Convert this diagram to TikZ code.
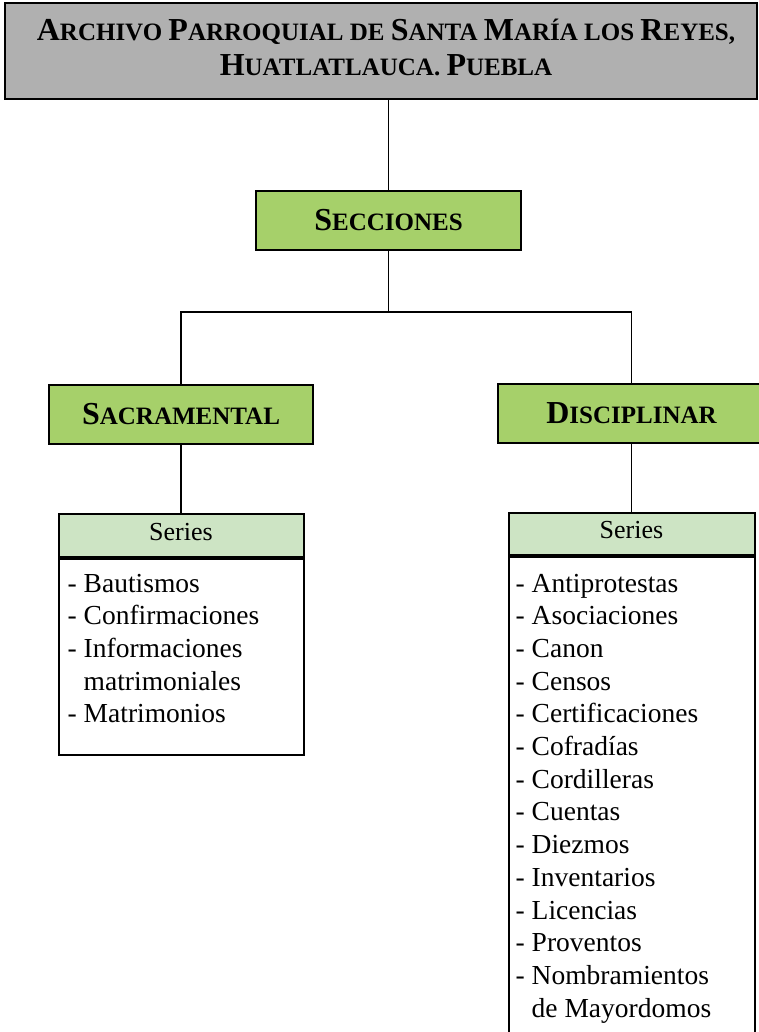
\documentclass[tikz,border=0pt]{standalone}
\usepackage{fontspec}
\setmainfont{Liberation Serif}
\definecolor{titlegray}{RGB}{176,176,176}
\definecolor{secgreen}{RGB}{166,208,106}
\definecolor{hdrgreen}{RGB}{205,228,196}
\newcommand\capbig[1]{{\fontsize{32pt}{34pt}\selectfont #1}}
\newcommand\capsml[1]{{\fontsize{25pt}{34pt}\selectfont #1}}
\begin{document}
\begin{tikzpicture}[x=1pt,y=-1pt,
  boxline/.style={draw=black, line width=2pt},
  titlebox/.style={boxline, fill=titlegray, inner sep=0pt},
  greenbox/.style={boxline, fill=secgreen, inner sep=0pt, font=\bfseries\fontsize{25pt}{34pt}\selectfont, text height=20pt, text depth=0pt},
  hdrbox/.style={boxline, fill=hdrgreen, inner sep=0pt, font=\fontsize{26pt}{30pt}\selectfont, text height=15pt, text depth=5.6pt},
  listbox/.style={boxline, fill=white, inner sep=0pt},
  item/.style={anchor=base west, inner sep=0pt, font=\fontsize{27.5pt}{32.7pt}\selectfont},
  conn/.style={draw=black, line width=1.8pt},
  titletext/.style={anchor=base, inner sep=0pt, font=\bfseries\fontsize{25pt}{34pt}\selectfont}]
\useasboundingbox (0,0) rectangle (759,1032);
\clip (0,0) rectangle (759,1032);

% title
\node[titlebox, minimum width=752pt, minimum height=96pt] (title) at (381,51) {};
\node[titletext] (t1) at (386,41) {\capbig{A}\capsml{RCHIVO} \capbig{P}\capsml{ARROQUIAL DE} \capbig{S}\capsml{ANTA} \capbig{M}\capsml{ARÍA LOS} \capbig{R}\capsml{EYES,}};
\node[titletext] (t2) at (386,75.5) {\capbig{H}\capsml{UATLATLAUCA. }\capbig{P}\capsml{UEBLA}};

% sections
\node[greenbox, minimum width=264.5pt, minimum height=59pt] (sec) at (388.5,220.5) {\capbig{S}\capsml{ECCIONES}};
\node[greenbox, minimum width=264.6pt, minimum height=58.7pt] (sac) at (181,414.3) {\capbig{S}\capsml{ACRAMENTAL}};
\node[greenbox, minimum width=267pt, minimum height=58.7pt] (dis) at (631.5,413.4) {\capbig{D}\capsml{ISCIPLINAR}};

% series
\node[hdrbox, minimum width=245pt, minimum height=42.5pt] (h1) at (181,535.3) {Series};
\node[hdrbox, minimum width=246pt, minimum height=42pt] (h2) at (631.5,534) {Series};
\node[listbox, anchor=north, minimum width=245pt, minimum height=196.5pt] (b1) at (h1.south) {};
\node[listbox, anchor=north, minimum width=246pt, minimum height=500pt] (b2) at (h2.south) {};

\foreach \t [count=\i] in {- Bautismos, - Confirmaciones, - Informaciones, \phantom{- }matrimoniales, - Matrimonios}
  \node[item] (l\i) at (67.5,{592+32.7*(\i-1)}) {\t};
\foreach \t [count=\i] in {- Antiprotestas, - Asociaciones, - Canon, - Censos, - Certificaciones, - Cofradías, - Cordilleras, - Cuentas, - Diezmos, - Inventarios, - Licencias, - Proventos, - Nombramientos, \phantom{- }de Mayordomos}
  \node[item] (r\i) at (515.5,{592+32.7*(\i-1)}) {\t};

% connectors
\coordinate (j) at (388.5,312);
\draw[conn] (title.south -| sec.north) -- (sec.north);
\draw[conn] (sec.south) -- (j);
\draw[conn] (sac.north) -- (sac.north |- j) -- (dis.north |- j) -- (dis.north);
\draw[conn] (sac.south) -- (h1.north);
\draw[conn] (dis.south) -- (h2.north);
\end{tikzpicture}
\end{document}
